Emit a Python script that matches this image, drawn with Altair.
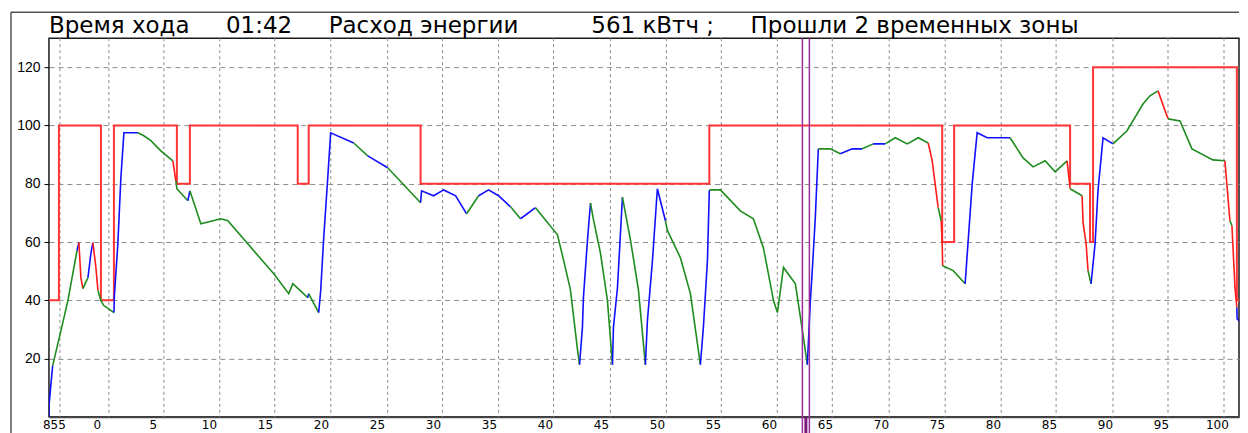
import altair as alt
import pandas as pd

# ---------------- data ----------------
title_parts = ["Время хода", "01:42", "Расход энергии", "561 кВтч ;", "Прошли 2 временных зоны"]
title_gaps = [5, 5, 10, 5]

# x tick labels (km posts)
x_label_pos = [-3.84, 0, 5, 10, 15, 20, 25, 30, 35, 40, 45, 50, 55, 60, 65, 70, 75, 80, 85, 90, 95, 100]
y_ticks = [20, 40, 60, 80, 100, 120]

# vertical grid lines
grid_km = [-3.30, 1.07, 5.98, 10.97, 15.88, 20.88, 25.96, 30.86, 35.86, 40.77, 45.85,
           50.85, 55.75, 60.75, 65.66, 70.74, 75.74, 80.74, 85.64, 90.72, 95.63, 100.63]

# speed limit (step function)
limit_km = [-4.28, -3.39, 0.36, 1.52, 7.14, 8.30, 17.93, 18.91, 28.90, 54.68,
            75.47, 76.54, 86.89, 88.67, 88.94, 101.78, 102.77]
limit_v = [40, 100, 40, 100, 80, 100, 80, 100, 80, 100,
           60, 100, 80, 60, 120, 40, 40]

# actual speed
speed_km = [-4.28, -4.26, -4.10, -3.95, -3.21, -2.59, -1.78, -1.61, -1.43, -1.25,
            -0.80, -0.54, -0.36, -0.09, 0.09, 0.36, 0.62, 1.52, 1.56, 1.87,
            2.14, 2.41, 3.66, 4.19, 4.82, 5.71, 6.78, 7.05, 7.14, 8.12,
            8.30, 9.28, 11.06, 11.69, 15.79, 17.13, 17.49, 18.82, 18.91, 19.80,
            19.98, 20.25, 20.61, 20.87, 22.93, 24.18, 25.96, 28.90, 28.99, 30.06,
            30.96, 32.03, 33.01, 34.08, 34.97, 35.86, 36.93, 37.82, 39.16, 41.12,
            41.66, 42.28, 42.91, 43.09, 43.35, 43.44, 43.80, 44.07, 44.34, 44.96,
            45.58, 46.03, 46.12, 46.48, 46.92, 47.64, 48.35, 48.97, 49.15, 49.60,
            50.04, 50.76, 50.94, 52.10, 52.99, 53.88, 54.15, 54.51, 54.68, 55.67,
            57.45, 58.61, 59.51, 60.41, 60.76, 61.30, 62.36, 62.99, 63.43, 63.70,
            63.87, 64.14, 64.41, 65.48, 66.37, 67.44, 68.33, 69.31, 70.38, 71.28,
            72.35, 73.33, 74.22, 74.58, 74.84, 75.11, 75.38, 75.47, 75.51, 76.45,
            77.52, 77.79, 78.15, 78.59, 79.49, 81.53, 82.69, 83.59, 84.66, 85.55,
            86.62, 86.80, 86.89, 87.96, 88.05, 88.32, 88.49, 88.76, 89.12, 89.38,
            89.83, 90.72, 91.97, 93.40, 94.02, 94.74, 95.63, 96.70, 97.77, 99.64,
            100.71, 101.16, 101.34, 101.61, 101.78, 101.80, 102.77]
speed_v = [0, 4.6, 11.4, 17.6, 29.6, 39.9, 57.0, 59.8, 47.8, 44.0,
           47.8, 56.0, 59.8, 51.3, 43.4, 39.9, 38.2, 35.8, 41.6, 59.4,
           82.0, 97.5, 97.5, 96.5, 94.8, 91.3, 87.9, 81.0, 78.3, 74.2,
           77.6, 66.3, 68.0, 67.3, 49.1, 42.3, 45.7, 40.9, 42.3, 35.8,
           43.3, 61.5, 82.0, 97.5, 94.0, 89.6, 85.5, 73.5, 77.6, 75.9,
           77.9, 75.9, 69.7, 75.9, 77.9, 75.9, 72.1, 68.0, 71.8, 62.5,
           53.9, 43.6, 23.0, 17.9, 30.8, 41.1, 60.7, 73.4, 67.6, 56.2,
           40.0, 17.9, 30.8, 44.5, 75.4, 60.7, 43.6, 17.9, 33.0, 53.6,
           78.3, 67.3, 63.9, 54.6, 42.3, 17.9, 30.8, 53.6, 77.9, 77.9,
           70.7, 68.0, 58.0, 39.9, 35.8, 51.3, 45.7, 29.6, 17.9, 39.9,
           50.2, 68.3, 92.0, 92.0, 90.3, 92.0, 92.0, 93.7, 93.7, 95.8,
           93.7, 95.8, 94.0, 87.9, 80.0, 71.8, 67.3, 59.8, 51.9, 50.2,
           45.7, 60.5, 80.0, 97.5, 95.8, 95.8, 88.9, 85.8, 87.9, 84.1,
           87.9, 81.7, 78.3, 75.9, 66.6, 59.4, 50.2, 45.7, 59.4, 77.6,
           95.8, 93.7, 98.2, 107.4, 110.2, 111.9, 102.3, 101.6, 92.0, 88.2,
           87.9, 67.3, 65.6, 44.4, 37.5, 33.7, 29.6]
# regime of each segment: T = traction, C = coasting, B = braking
speed_mode = list("TTTCCCTBBC" "TTBBCCCTTT" "TTCCCCBCCT" "CCCCCCCTCT" "TTTTCTCTTT"
                  "TTCTTTCTCC" "CCCTTTTCCC" "CTTTCCCTTT" "TCCCCTTTCC" "CCCCCCCCTT"
                  "TTCCTTCTCC" "CCBBBCBBCC" "TTTTTCCCCC" "BBCBBBCTTT" "TCCCCBCCCC"
                  "BCBBTT")

marker_km = [63.3]

# ---------------- build tables ----------------
W, H = 1191, 379
title_text = title_parts[0]
for g, p in zip(title_gaps, title_parts[1:]):
    title_text += "\u00a0" * g + p

rows = []
run = 0
for i in range(len(speed_km) - 1):
    if i > 0 and speed_mode[i] != speed_mode[i - 1]:
        run += 1
    if i == 0 or speed_mode[i] != speed_mode[i - 1]:
        rows.append(dict(run=run, o=i, km=speed_km[i], v=speed_v[i], mode=speed_mode[i]))
    rows.append(dict(run=run, o=i + 1, km=speed_km[i + 1], v=speed_v[i + 1], mode=speed_mode[i]))
speed_df = pd.DataFrame(rows)
limit_df = pd.DataFrame({"km": limit_km, "v": limit_v})
grid_df = pd.DataFrame({"km": grid_km})
marker_df = pd.DataFrame({"km": marker_km})
one = pd.DataFrame({"a": [0]})

xscale = alt.Scale(domain=[-4.28, 101.97], nice=False, zero=False)
yscale = alt.Scale(domain=[0, 130], nice=False, zero=True)

xaxis = alt.Axis(values=x_label_pos,
                 labelExpr="datum.value < -1 ? '855' : format(datum.value, 'd')",
                 ticks=False, grid=False, domain=True, domainColor="#4a4a4a", domainWidth=2,
                 labelFont="DejaVu Sans", labelFontSize=12, labelColor="black",
                 labelPadding=3, labelOverlap=False, labelFlush=False, title=None)
yaxis = alt.Axis(values=y_ticks, grid=True, gridDash=[5, 4], gridColor="#8c8c8c", gridWidth=1,
                 domain=False, ticks=True, tickSize=5, tickColor="black",
                 labelFont="Liberation Sans", labelFontSize=14, labelColor="black",
                 labelPadding=4, title=None)

X = alt.X("km:Q", scale=xscale, axis=xaxis)
Y = alt.Y("v:Q", scale=yscale, axis=yaxis)

vgrid = alt.Chart(grid_df).mark_rule(color="#8c8c8c", strokeDash=[3, 3], strokeWidth=1).encode(x=X)

limit = alt.Chart(limit_df).mark_line(interpolate="step-after", color="#ff3535",
                                      strokeWidth=2, clip=True).encode(x=X, y=Y)

speed = alt.Chart(speed_df).mark_line(strokeWidth=1.6, clip=True).encode(
    x=X, y=Y,
    color=alt.Color("mode:N", scale=alt.Scale(domain=["T", "C", "B"],
                                              range=["#1010ff", "#1f8c1f", "#ff1a1a"]),
                    legend=None),
    detail="run:N",
    order="o:Q",
)

marker_l = alt.Chart(marker_df).mark_rule(color="#9b2c9b", strokeWidth=1.5, xOffset=-3.5).encode(
    x=X, y=alt.value(0), y2=alt.value(H + 17))
marker_r = alt.Chart(marker_df).mark_rule(color="#9b2c9b", strokeWidth=1.5, xOffset=3.5).encode(
    x=X, y=alt.value(0), y2=alt.value(H + 17))
marker_b = alt.Chart(marker_df).mark_rule(color="#7a1a7a", strokeWidth=3).encode(
    x=X, y=alt.value(H), y2=alt.value(H + 17))

frame_left = alt.Chart(one).mark_rule(color="black", strokeWidth=1).encode(
    x=alt.value(-38), y=alt.value(-26), y2=alt.value(H + 22))
frame_top = alt.Chart(one).mark_rule(color="black", strokeWidth=1).encode(
    x=alt.value(-38), x2=alt.value(W), y=alt.value(-26))

title = alt.Chart(one).mark_text(align="left", baseline="alphabetic", font="DejaVu Sans",
                                 fontSize=23, color="black").encode(
    x=alt.value(0), y=alt.value(-5), text=alt.value(title_text))

chart = alt.layer(vgrid, limit, speed, marker_l, marker_r, marker_b,
                  frame_left, frame_top, title).properties(
    width=W, height=H,
    padding={"left": 2, "top": 3, "right": 0, "bottom": 0},
).configure_view(stroke="#1a1a1a", strokeWidth=1.5)

chart.save("out.html", embed_options={"renderer": "svg", "actions": False})
